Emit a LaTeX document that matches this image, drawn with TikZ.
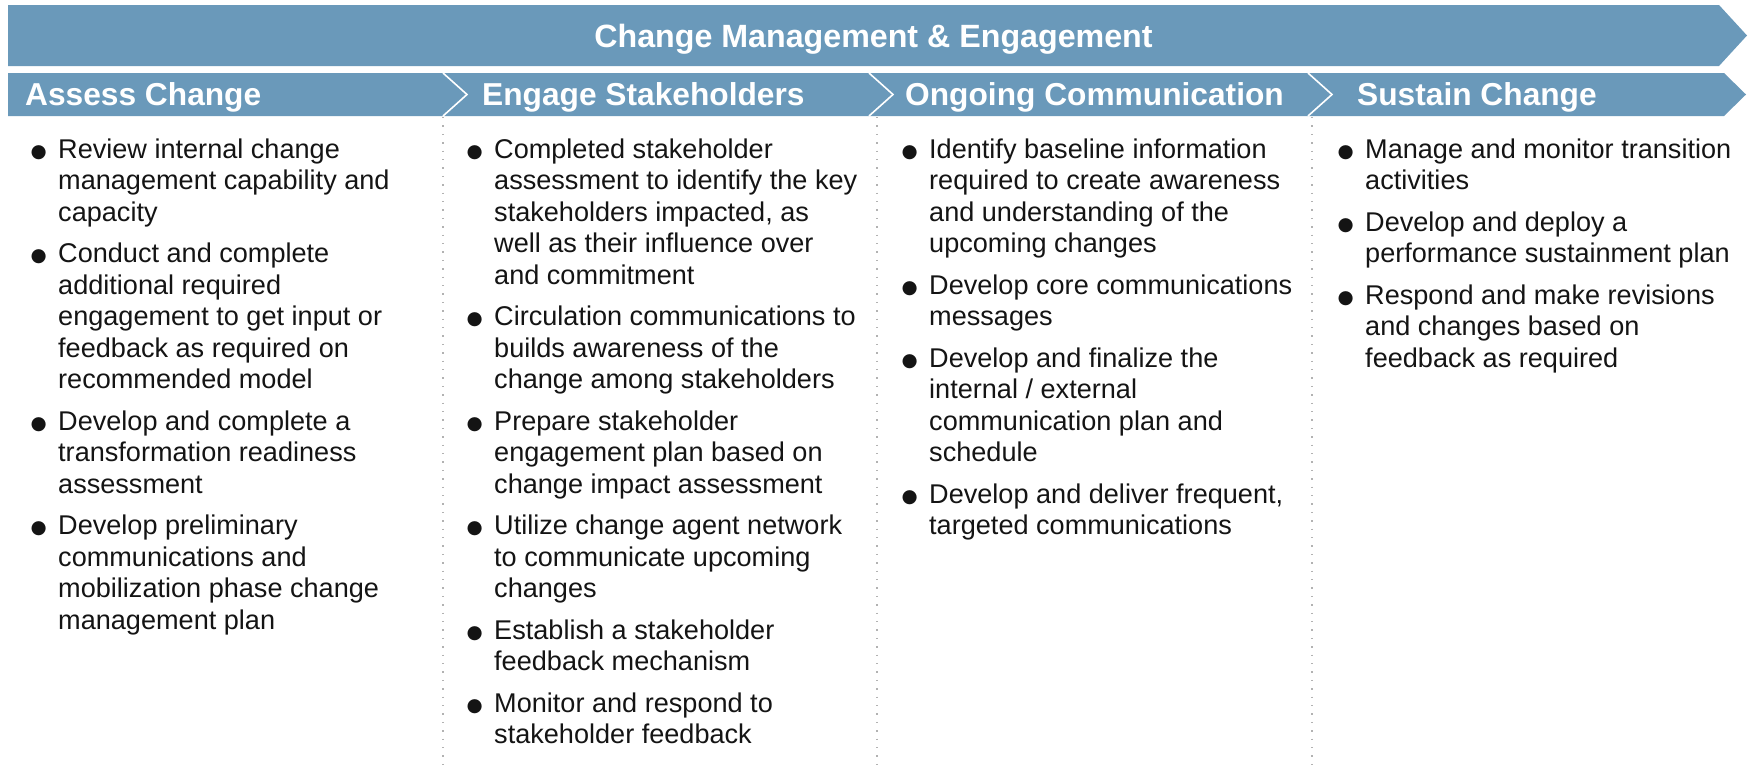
\documentclass[tikz,border=0pt]{standalone}
\usepackage{fontspec}
\setmainfont{Liberation Sans}
\newfontfamily\dvs{DejaVu Sans}
\definecolor{band}{RGB}{106,153,186}
\definecolor{dotgray}{RGB}{178,178,178}
\definecolor{bodytext}{RGB}{20,20,20}
\newcommand\bul{\leavevmode\llap{\raisebox{1pt}{\dvs\fontsize{18.5}{19}\selectfont ●}\hspace{11.5pt}}}
\begin{document}
\begin{tikzpicture}[x=1pt,y=-1pt,
  sep/.style={draw=white, line width=1.6pt},
  hdr/.style={text=white, font=\fontsize{31.7}{38}\selectfont\bfseries, inner sep=0},
  col/.style={anchor=north west, inner sep=0, align=left, text=bodytext,
    font=\fontsize{27.1}{31.5}\selectfont},
  dotline/.style={draw=dotgray, line width=1.4pt, dash pattern=on 1.4pt off 7pt}]
\useasboundingbox (0,0) rectangle (1748,771);
% top banner
\fill[band] (8,5) -- (1719,5) -- (1747,35.5) -- (1719,66) -- (8,66) -- cycle;
\node[hdr, anchor=base, font=\fontsize{32.2}{38}\selectfont\bfseries] (title) at (873.5,47) {Change Management \& Engagement};
% second row
\fill[band] (8,73) -- (1724,73) -- (1746,94.5) -- (1724,116) -- (8,116) -- cycle;
\draw[sep] (443,73) -- (467,94.5) -- (443,116);
\draw[sep] (869,73) -- (893,94.5) -- (869,116);
\draw[sep] (1308,73) -- (1332,94.5) -- (1308,116);
\node[hdr, anchor=base west] (h1) at (25,105.8) {Assess Change};
\node[hdr, anchor=base west] (h2) at (482,105.8) {Engage Stakeholders};
\node[hdr, anchor=base west] (h3) at (905,105.8) {Ongoing Communication};
\node[hdr, anchor=base west] (h4) at (1357,105.8) {Sustain Change};
% dotted separators
\coordinate (d1a) at (443,117); \coordinate (d1b) at (443,771);
\coordinate (d2a) at (877,117); \coordinate (d2b) at (877,771);
\coordinate (d3a) at (1312,117); \coordinate (d3b) at (1312,771);
\draw[dotline] (d1a) -- (d1b);
\draw[dotline] (d2a) -- (d2b);
\draw[dotline] (d3a) -- (d3b);
% columns
\node[col] (c1) at (58,135.9) {\strut\bul Review internal change\\
management capability and\\
capacity\\[10pt]
\bul Conduct and complete\\
additional required\\
engagement to get input or\\
feedback as required on\\
recommended model\\[10pt]
\bul Develop and complete a\\
transformation readiness\\
assessment\\[10pt]
\bul Develop preliminary\\
communications and\\
mobilization phase change\\
management plan};
\node[col] (c2) at (494,135.9) {\strut\bul Completed stakeholder\\
assessment to identify the key\\
stakeholders impacted, as\\
well as their influence over\\
and commitment\\[10pt]
\bul Circulation communications to\\
builds awareness of the\\
change among stakeholders\\[10pt]
\bul Prepare stakeholder\\
engagement plan based on\\
change impact assessment\\[10pt]
\bul Utilize change agent network\\
to communicate upcoming\\
changes\\[10pt]
\bul Establish a stakeholder\\
feedback mechanism\\[10pt]
\bul Monitor and respond to\\
stakeholder feedback};
\node[col] (c3) at (929,135.9) {\strut\bul Identify baseline information\\
required to create awareness\\
and understanding of the\\
upcoming changes\\[10pt]
\bul Develop core communications\\
messages\\[10pt]
\bul Develop and finalize the\\
internal / external\\
communication plan and\\
schedule\\[10pt]
\bul Develop and deliver frequent,\\
targeted communications};
\node[col] (c4) at (1365,135.9) {\strut\bul Manage and monitor transition\\
activities\\[10pt]
\bul Develop and deploy a\\
performance sustainment plan\\[10pt]
\bul Respond and make revisions\\
and changes based on\\
feedback as required};
\end{tikzpicture}
\end{document}
